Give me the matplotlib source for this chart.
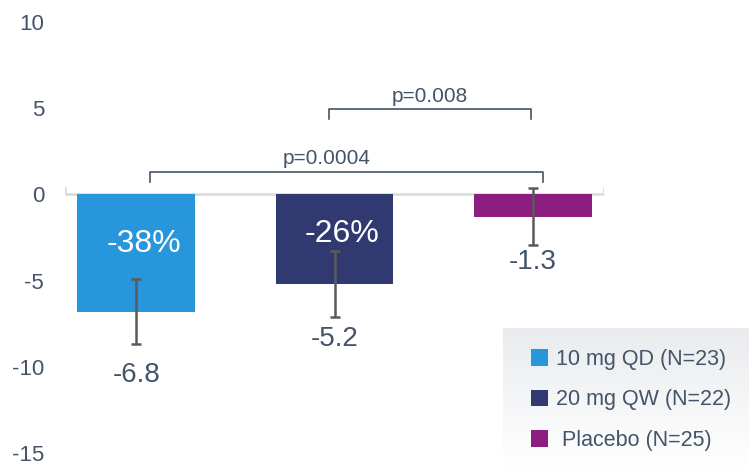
import numpy as np
import matplotlib
matplotlib.use("Agg")
import matplotlib.pyplot as plt

plt.rcParams["font.family"] = ["Liberation Sans", "DejaVu Sans"]
plt.rcParams["axes.unicode_minus"] = False

# Change from baseline by treatment arm
groups = ["10 mg QD (N=23)", "20 mg QW (N=22)", " Placebo (N=25)"]
means = [-6.8, -5.2, -1.3]
errors = [1.9, 1.9, 1.65]
pct_change = ["-38%", "-26%", None]
colors = ["#2896DA", "#303A70", "#8C1E82"]

# pairwise comparisons: (left bar, right bar, p-value text)
comparisons = [(0, 2, "p=0.0004"), (1, 2, "p=0.008")]

text_col = "#44546A"

fig = plt.figure(figsize=(7.49, 4.67), dpi=100)
ax = fig.add_axes([65 / 749, 14 / 467, 539 / 749, 431 / 467])

x = np.arange(len(means))
ax.bar(x, means, width=0.594, color=colors, label=groups, zorder=2)
ax.errorbar(x, means, yerr=errors, fmt="none", ecolor="#5A5A5A",
            elinewidth=1.8, capsize=3.6, capthick=1.8, zorder=3)

# value labels below the error bars
label_drop = [1.8, 1.27, 1.0]
for xi, m, e, d in zip(x, means, errors, label_drop):
    ax.text(xi, m - e - d, f"{m:.1f}", ha="center", va="center",
            fontsize=20, color=text_col)

# percent change inside the bars
pct_y = [-2.9, -2.3]
for xi, p, py in zip(x, pct_change, pct_y):
    if p:
        ax.text(xi + 0.04, py, p, ha="center", va="center",
                fontsize=23, color="white")

# significance brackets
bracket_spec = [
    # end offsets, bracket top, drop, text x shift, text y
    (0.07, 0.05, 1.31, 0.57, -0.1, 2.1),
    (-0.03, -0.01, 4.95, 0.57, 0.0, 5.65),
]
for (a, b, txt), (oa, ob, top, drop, tx, ty) in zip(comparisons, bracket_spec):
    xa, xb = x[a] + oa, x[b] + ob
    ax.plot([xa, xa, xb, xb], [top - drop, top, top, top - drop],
            color=text_col, lw=1.2, zorder=1)
    ax.text((xa + xb) / 2 + tx, ty, txt, ha="center", va="center",
            fontsize=15, color=text_col)

# category axis line with end ticks
x0, x1 = -0.36, 2.36
ax.plot([x0, x0, x1, x1], [0.35, 0, 0, 0.35], color="#D9D9D9", lw=1.8,
        zorder=1, solid_joinstyle="miter")

ax.set_xlim(x0, x1)
ax.set_ylim(-15, 10)
ax.set_yticks([10, 5, 0, -5, -10, -15])
ax.set_xticks([])
ax.tick_params(axis="y", length=0, pad=15, labelsize=16, labelcolor=text_col)
for s in ax.spines.values():
    s.set_visible(False)
ax.patch.set_alpha(0)

# legend panel with a soft gray gradient
lax = fig.add_axes([503 / 749, 0, 246 / 749, 139 / 467])
grad = np.linspace(0, 1, 256).reshape(-1, 1)
lax.imshow(grad, aspect="auto", cmap=matplotlib.colors.LinearSegmentedColormap
           .from_list("g", ["#E9EBEE", "#FFFFFF"]), extent=[0, 1, 0, 1],
           origin="upper")
lax.set_axis_off()
lax.set_zorder(-1)

handles, labels = ax.get_legend_handles_labels()
leg = fig.legend(handles, labels, loc="upper left",
                 bbox_to_anchor=(531 / 749, 1 - 349 / 467),
                 frameon=False, fontsize=15.5, labelcolor=text_col,
                 handlelength=0.8, handleheight=0.8, handletextpad=0.35,
                 labelspacing=0.9, borderpad=0, borderaxespad=0)

fig.savefig("out.png", dpi=100)
